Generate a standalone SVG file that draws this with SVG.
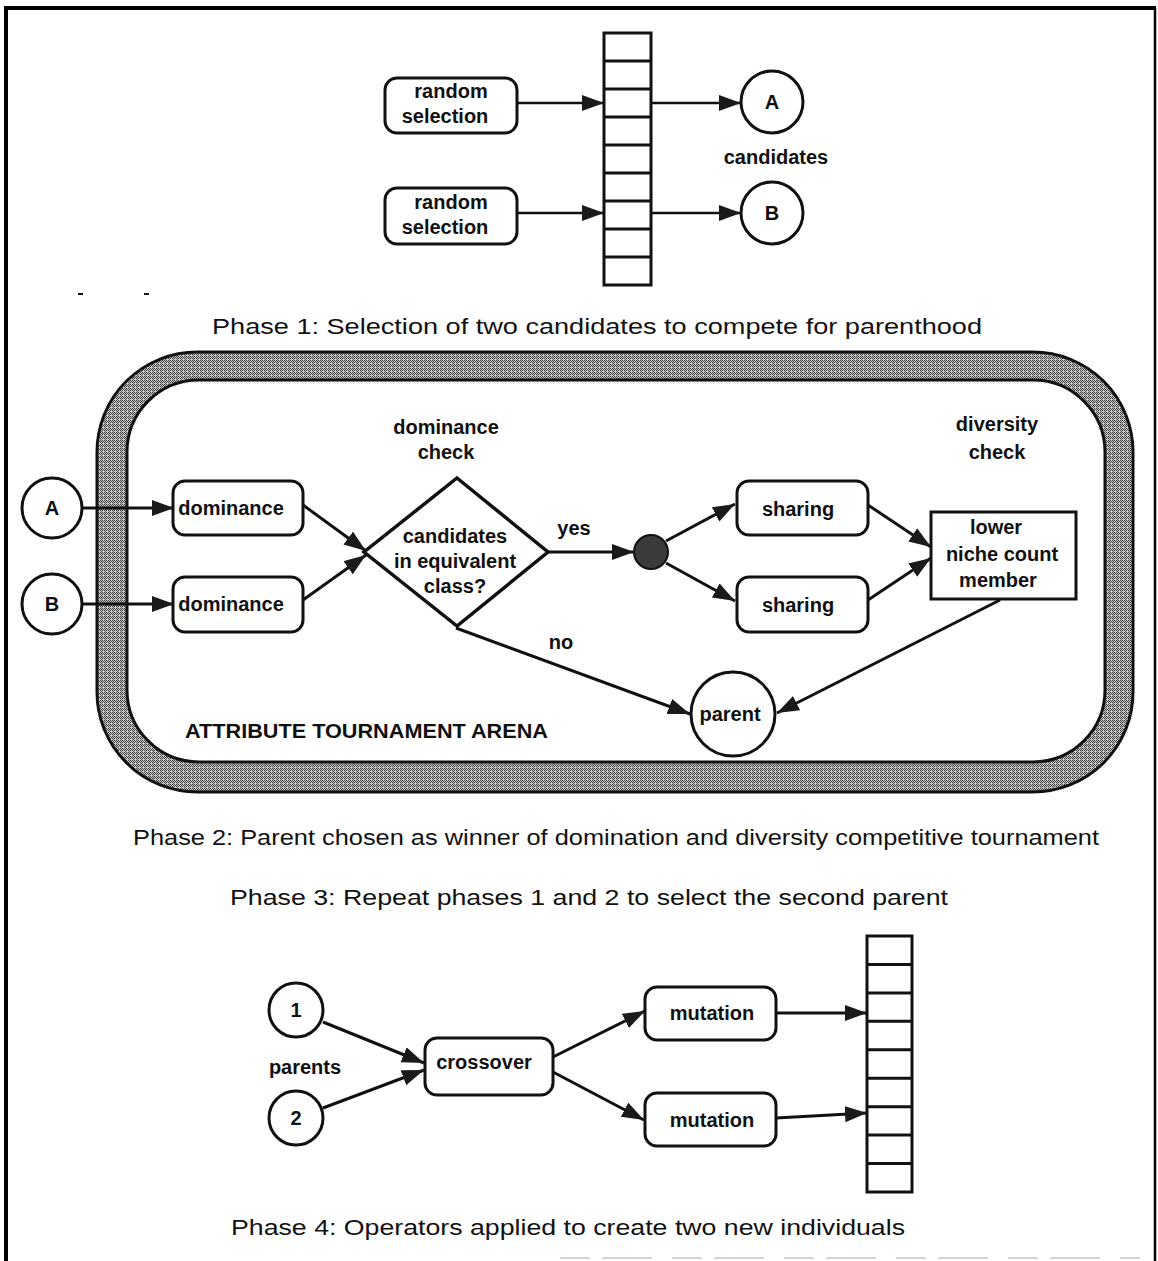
<svg xmlns="http://www.w3.org/2000/svg" width="1158" height="1261" viewBox="0 0 1158 1261">
<style>
.frame{stroke:#000;stroke-width:4;fill:none}
.box{fill:#fff;stroke:#111;stroke-width:3}
.cell{fill:#fff;stroke:#111;stroke-width:3}
.edge{stroke:#111;stroke-width:3;fill:none;marker-end:url(#ah)}
.edge2{stroke:#111;stroke-width:2.5;fill:none;marker-end:url(#ah)}
.lbl{font-family:"Liberation Sans",Arial,sans-serif;font-weight:bold;font-size:20px;fill:#111;text-anchor:middle}
.cap{font-family:"Liberation Sans",Arial,sans-serif;font-size:22px;fill:#111}
</style>
<defs>
<marker id="ah" markerUnits="userSpaceOnUse" markerWidth="24" markerHeight="18" refX="22" refY="8" orient="auto">
<path d="M0,0 L22,8 L0,16 z" fill="#1a1a1a"/>
</marker>
<pattern id="hatch" width="4" height="4" patternUnits="userSpaceOnUse">
<rect width="4" height="4" fill="#cfcfcf"/>
<rect x="0" y="0" width="1" height="1" fill="#333"/>
<rect x="2" y="0" width="1" height="1" fill="#333"/>
<rect x="1" y="1" width="1" height="1" fill="#444"/>
<rect x="3" y="1" width="1" height="1" fill="#444"/>
<rect x="0" y="2" width="1" height="1" fill="#333"/>
<rect x="2" y="2" width="1" height="1" fill="#333"/>
<rect x="1" y="3" width="1" height="1" fill="#555"/>
</pattern>
</defs>

<!-- frame -->
<g id="frame">
<line class="frame" x1="6" y1="8" x2="6" y2="1261"/>
<line class="frame" x1="4" y1="8" x2="1156" y2="8"/>
<line x1="1155" y1="8" x2="1155" y2="1261" stroke="#000" stroke-width="2.5"/>
<line x1="78" y1="294" x2="83" y2="294" stroke="#111" stroke-width="2"/>
<line x1="144" y1="294" x2="149" y2="294" stroke="#111" stroke-width="2"/>
<line x1="560" y1="1258" x2="1140" y2="1258" stroke="#d4d4d4" stroke-width="2" stroke-dasharray="30 12 50 20"/>
</g>

<!-- arena -->
<g id="arena">
<path d="M197,352 H1033 A100,100 0 0 1 1133,452 V692 A100,100 0 0 1 1033,792 H197 A100,100 0 0 1 97,692 V452 A100,100 0 0 1 197,352 Z M199,380 A72,72 0 0 0 127,452 V690 A72,72 0 0 0 199,762 H1033 A72,72 0 0 0 1105,690 V452 A72,72 0 0 0 1033,380 Z" fill="url(#hatch)" fill-rule="evenodd"/>
<rect x="97" y="352" width="1036" height="440" rx="100" fill="none" stroke="#111" stroke-width="3"/>
<rect x="127" y="380" width="978" height="382" rx="72" fill="none" stroke="#111" stroke-width="3"/>
<text class="lbl" x="185" y="738" style="text-anchor:start" textLength="363" lengthAdjust="spacingAndGlyphs">ATTRIBUTE TOURNAMENT ARENA</text>
</g>

<!-- connectors -->
<g id="connectors">
<line class="edge2" x1="517" y1="103" x2="604" y2="103"/>
<line class="edge2" x1="651" y1="103" x2="741" y2="103"/>
<line class="edge2" x1="517" y1="213" x2="604" y2="213"/>
<line class="edge2" x1="651" y1="213" x2="741" y2="213"/>

<line class="edge" x1="82" y1="508" x2="174" y2="508"/>
<line class="edge" x1="82" y1="604" x2="174" y2="604"/>
<line class="edge" x1="303" y1="505" x2="366" y2="551"/>
<line class="edge" x1="303" y1="600" x2="366" y2="555"/>
<line class="edge" x1="548" y1="552" x2="634" y2="552"/>
<line class="edge" x1="666" y1="541" x2="735" y2="504"/>
<line class="edge" x1="666" y1="563" x2="735" y2="601"/>
<line class="edge" x1="868" y1="505" x2="931" y2="547"/>
<line class="edge" x1="868" y1="600" x2="931" y2="558"/>
<line class="edge" x1="456" y1="628" x2="690" y2="714"/>
<line class="edge" x1="1000" y1="600" x2="777" y2="713"/>

<line class="edge" x1="323" y1="1022" x2="424" y2="1063"/>
<line class="edge" x1="323" y1="1108" x2="424" y2="1070"/>
<line class="edge" x1="553" y1="1057" x2="645" y2="1011"/>
<line class="edge" x1="553" y1="1072" x2="644" y2="1120"/>
<line class="edge" x1="776" y1="1013" x2="867" y2="1013"/>
<line class="edge" x1="776" y1="1118" x2="867" y2="1113"/>
</g>

<!-- Phase 1 -->
<g id="rs1"><rect class="box" x="385" y="78" width="132" height="55" rx="12"/>
<text class="lbl" x="451" y="98">random</text><text class="lbl" x="445" y="123">selection</text></g>
<g id="rs2"><rect class="box" x="385" y="188" width="132" height="56" rx="12"/>
<text class="lbl" x="451" y="209">random</text><text class="lbl" x="445" y="234">selection</text></g>
<g id="pop1">
<rect class="cell" x="604" y="33" width="47" height="252"/>
<path d="M604,61H651M604,89H651M604,117H651M604,145H651M604,173H651M604,201H651M604,229H651M604,257H651" stroke="#111" stroke-width="3"/>
</g>
<g id="candA"><circle cx="772" cy="102" r="31" fill="#fff" stroke="#111" stroke-width="3"/><text class="lbl" x="772" y="109">A</text></g>
<g id="candB"><circle cx="772" cy="213" r="31" fill="#fff" stroke="#111" stroke-width="3"/><text class="lbl" x="772" y="220">B</text></g>
<text class="lbl" x="776" y="164">candidates</text>
<text class="cap" x="212" y="334" textLength="770" lengthAdjust="spacingAndGlyphs">Phase 1:  Selection of two candidates to compete for parenthood</text>

<!-- Phase 2 -->
<text class="lbl" x="446" y="434">dominance</text>
<text class="lbl" x="446" y="459">check</text>
<text class="lbl" x="997" y="431">diversity</text>
<text class="lbl" x="997" y="459">check</text>
<g id="inA"><circle cx="52" cy="508" r="30" fill="#fff" stroke="#111" stroke-width="3"/><text class="lbl" x="52" y="515">A</text></g>
<g id="inB"><circle cx="52" cy="604" r="30" fill="#fff" stroke="#111" stroke-width="3"/><text class="lbl" x="52" y="611">B</text></g>
<g id="dom1"><rect class="box" x="173" y="481" width="130" height="54" rx="12"/><text class="lbl" x="231" y="515">dominance</text></g>
<g id="dom2"><rect class="box" x="173" y="577" width="130" height="55" rx="12"/><text class="lbl" x="231" y="611">dominance</text></g>
<g id="decision"><polygon points="457,478 548,552 457,626 364,552" fill="#fff" stroke="#111" stroke-width="3.5"/>
<text class="lbl" x="455" y="543">candidates</text><text class="lbl" x="455" y="568">in equivalent</text><text class="lbl" x="455" y="593">class?</text></g>
<text class="lbl" x="574" y="535">yes</text>
<text class="lbl" x="561" y="649">no</text>
<g id="split"><circle cx="651" cy="552" r="17" fill="#3a3a3a" stroke="#111" stroke-width="2"/></g>
<g id="share1"><rect class="box" x="737" y="481" width="131" height="54" rx="12"/><text class="lbl" x="798" y="516">sharing</text></g>
<g id="share2"><rect class="box" x="737" y="577" width="131" height="55" rx="12"/><text class="lbl" x="798" y="612">sharing</text></g>
<g id="niche"><rect x="931" y="512" width="145" height="87" fill="#fff" stroke="#111" stroke-width="3"/>
<text class="lbl" x="996" y="534">lower</text><text class="lbl" x="1002" y="561">niche count</text><text class="lbl" x="998" y="587">member</text></g>
<g id="parent"><circle cx="733" cy="714" r="42" fill="#fff" stroke="#111" stroke-width="3"/><text class="lbl" x="730" y="721">parent</text></g>
<text class="cap" x="133" y="845" textLength="966" lengthAdjust="spacingAndGlyphs">Phase 2: Parent chosen as winner of domination and diversity competitive tournament</text>

<!-- Phase 3 -->
<text class="cap" x="230" y="905" textLength="718" lengthAdjust="spacingAndGlyphs">Phase 3:  Repeat phases 1 and 2 to select the second parent</text>

<!-- Phase 4 -->
<g id="par1"><circle cx="296" cy="1010" r="27" fill="#fff" stroke="#111" stroke-width="3"/><text class="lbl" x="296" y="1017">1</text></g>
<g id="par2"><circle cx="296" cy="1118" r="27" fill="#fff" stroke="#111" stroke-width="3"/><text class="lbl" x="296" y="1125">2</text></g>
<text class="lbl" x="305" y="1074">parents</text>
<g id="crossover"><rect class="box" x="425" y="1038" width="128" height="57" rx="12"/><text class="lbl" x="484" y="1069">crossover</text></g>
<g id="mut1"><rect class="box" x="645" y="987" width="131" height="53" rx="12"/><text class="lbl" x="712" y="1020">mutation</text></g>
<g id="mut2"><rect class="box" x="645" y="1093" width="131" height="53" rx="12"/><text class="lbl" x="712" y="1127">mutation</text></g>
<g id="pop2">
<rect class="cell" x="867" y="936" width="45" height="256"/>
<path d="M867,964.4H912M867,992.9H912M867,1021.3H912M867,1049.8H912M867,1078.2H912M867,1106.7H912M867,1135.1H912M867,1163.6H912" stroke="#111" stroke-width="3"/>
</g>
<text class="cap" x="231" y="1235" textLength="674" lengthAdjust="spacingAndGlyphs">Phase 4:  Operators applied to create two new individuals</text>
</svg>
